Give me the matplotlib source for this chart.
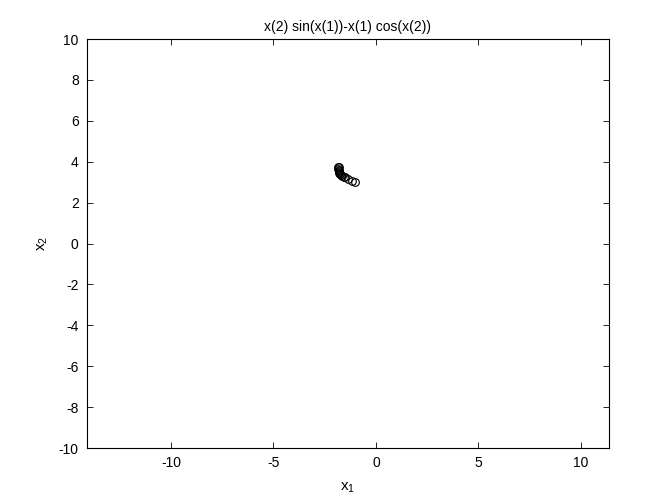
import matplotlib
matplotlib.use("Agg")
import matplotlib.pyplot as plt

# iterates of the solver
x1 = [-1.82, -1.83, -1.83, -1.82, -1.81, -1.80, -1.78, -1.76, -1.73,
      -1.69, -1.64, -1.58, -1.51, -1.35, -1.19, -1.02]
x2 = [3.76, 3.72, 3.67, 3.62, 3.57, 3.52, 3.47, 3.42, 3.38,
      3.34, 3.30, 3.27, 3.24, 3.14, 3.07, 3.02]

xticks = [-10, -5, 0, 5, 10]
yticks = list(range(-10, 11, 2))
title = "x(2) sin(x(1))-x(1) cos(x(2))"

plt.rcParams['font.family'] = ['Liberation Sans', 'DejaVu Sans']
plt.rcParams['axes.unicode_minus'] = False

fig = plt.figure(figsize=(6.72, 5.04), dpi=100)
ax = fig.add_axes([0.1295, 0.111, 0.7765, 0.8115])

ax.plot(x1, x2, 'o', markerfacecolor='none', markeredgecolor='black',
        markersize=5.5, markeredgewidth=0.8)

ax.set_xlim(-14.1, 11.37)
ax.set_ylim(-10, 10)
ax.set_xticks(xticks)
ax.set_yticks(yticks)
ax.tick_params(direction='in', top=True, right=True, length=4, width=0.6,
               labelsize=10, pad=6)
for s in ax.spines.values():
    s.set_linewidth(0.8)

ax.set_title(title, fontsize=10, pad=6)
ax.set_xlabel(r'$\mathregular{x_1}$', fontsize=11, labelpad=7)
ax.set_ylabel(r'$\mathregular{x_2}$', fontsize=11, labelpad=6)

fig.savefig('out.png', dpi=100, facecolor='white')
